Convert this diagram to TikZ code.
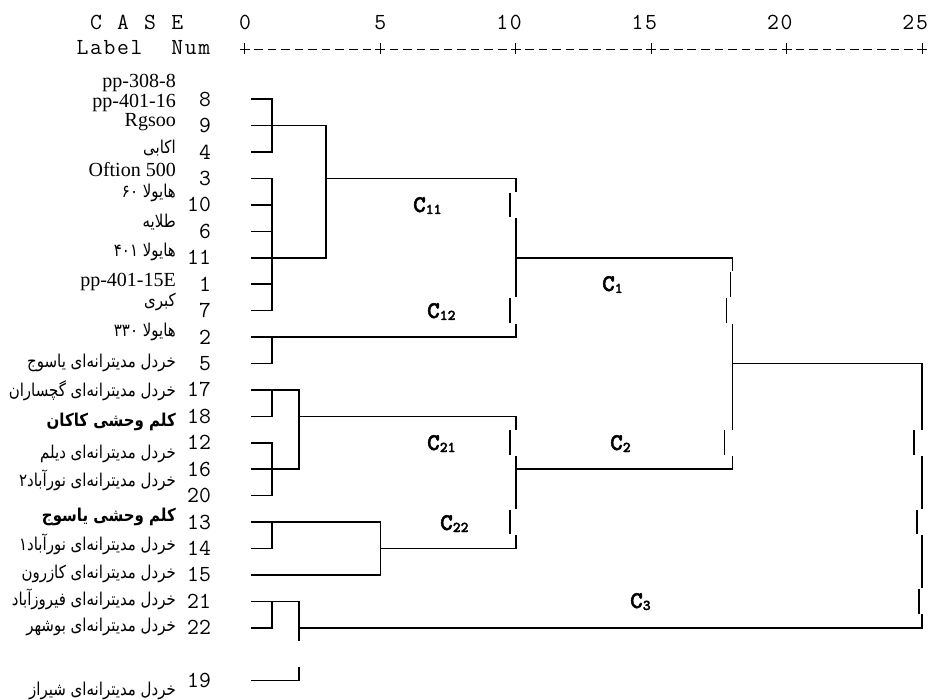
\documentclass[tikz,border=0pt]{standalone}
\usepackage{fontspec}
\setmainfont{Liberation Serif}
\newfontfamily\arfont[Script=Arabic]{DejaVu Sans}
\newfontfamily\cbold{lmmonolt10-bold.otf}[FakeBold=2]
\TeXXeTstate=1
\newcommand\ar[1]{\scalebox{1}[1.18]{\arfont\fontsize{15}{15}\selectfont\beginR #1\endR}}
\newcommand\arb[1]{\scalebox{1}[1.18]{\arfont\bfseries\fontsize{15}{15}\selectfont\beginR #1\endR}}
\newcommand\mtt{\ttfamily\fontsize{23}{23}\selectfont}
\tikzset{
  dl/.style={line width=1.6pt, line cap=rect, line join=miter},
  rl/.style={line width=0.9pt},
  mono/.style={font=\mtt, inner sep=0pt, anchor=base},
  lat/.style={font=\fontsize{20}{20}\selectfont, inner sep=0pt, anchor=base east},
  arl/.style={inner sep=0pt, anchor=base east},
  clab/.style={inner sep=0pt, anchor=base west, font=\cbold\fontsize{24}{24}\selectfont},
}
\newcommand\sub[1]{\raisebox{-2pt}{\fontsize{15}{15}\selectfont #1}}
% shifted "|" cell on a vertical line: x, row index, shift
\newcommand\shv[3]{%
  \fill[white] ({#1-1.2},{99.3+26.42*#2-13.21}) rectangle ({#1+1.2},{99.3+26.42*#2+13.21});
  \draw[dl, line cap=butt] ({#1+#3},{99.3+26.42*#2-12.3}) -- ({#1+#3},{99.3+26.42*#2+12.3});}
\begin{document}
\begin{tikzpicture}[x=1pt,y=-1pt]
\useasboundingbox (0,0) rectangle (929,700);
% header
\foreach \k/\c in {0/C,2/A,4/S,6/E,11/0,21/5,30/1,31/0,40/1,41/5,50/2,51/0,60/2,61/5}
  \node[mono] (h\k) at ({96+13.54*\k},30) {\c};
\foreach \k/\c in {-1/L,0/a,1/b,2/e,3/l,6/N,7/u,8/m}
  \node[mono] (g\k) at ({96+13.54*\k},55) {\c};
% ruler
\foreach \k in {11,...,61}{
  \pgfmathtruncatemacro\r{mod(\k-11,10)}
  \pgfmathsetmacro\xc{96+13.54*\k}
  \ifnum\r=0
    \draw[rl] ({\xc-5},49) -- ({\xc+5},49);
    \draw[rl] (\xc,43.5) -- (\xc,54.5);
  \else
    \draw[rl] ({\xc-4.3},49) -- ({\xc+4.3},49);
  \fi
}
% case numbers
\foreach \n/\i in {8/0,9/1,4/2,3/3,10/4,6/5,11/6,1/7,7/8,2/9,5/10,17/11,18/12,12/13,16/14,20/15,13/16,14/17,15/18,21/19,22/20,19/22}
  \node[mono, anchor=base east] (n\n) at (211.1,{99.3+26.42*\i+7}) {\n};
% labels
\node[lat] (t1) at (176,87.3) {pp-308-8};
\node[lat] (t2) at (176,107.3) {pp-401-16};
\node[lat] (t3) at (176,126.7) {Rgsoo};
\node[arl] (t4) at (176,153.3) {\ar{اکابی}};
\node[lat] (t5) at (176,176.7) {Oftion 500};
\node[arl] (t6) at (176,197.5) {\ar{هایولا \beginL۶۰\endL{}}};
\node[arl] (t7) at (176,228) {\ar{طلایه}};
\node[arl] (t8) at (176,256.7) {\ar{هایولا \beginL۴۰۱\endL{}}};
\node[lat] (t9) at (176,286.7) {pp-401-15E};
\node[arl] (t10) at (176,306.7) {\ar{کبری}};
\node[arl] (t11) at (176,336.7) {\ar{هایولا \beginL۳۳۰\endL{}}};
\node[arl] (t12) at (176,368) {\ar{خردل مدیترانه^^^^200cای یاسوج}};
\node[arl] (t13) at (176,396.7) {\ar{خردل مدیترانه^^^^200cای گچساران}};
\node[arl] (t14) at (176,426.7) {\arb{کلم وحشی کاکان}};
\node[arl] (t15) at (176,458) {\ar{خردل مدیترانه^^^^200cای دیلم}};
\node[arl] (t16) at (176,486.7) {\ar{خردل مدیترانه^^^^200cای نورآباد۲}};
\node[arl] (t17) at (176,521.7) {\arb{کلم وحشی یاسوج}};
\node[arl] (t18) at (176,550) {\ar{خردل مدیترانه^^^^200cای نورآباد۱}};
\node[arl] (t19) at (176,578) {\ar{خردل مدیترانه^^^^200cای کازرون}};
\node[arl] (t20) at (176,605) {\ar{خردل مدیترانه^^^^200cای فیروزآباد}};
\node[arl] (t21) at (176,631.7) {\ar{خردل مدیترانه^^^^200cای بوشهر}};
\node[arl] (t22) at (176,695) {\ar{خردل مدیترانه^^^^200cای شیراز}};
% leaves
\foreach \n/\y in {8/99.3,9/125.7,4/152.1,3/178.6,10/205.0,6/231.4,11/257.8,1/284.2,7/310.7,2/337.1,5/363.5,17/389.9,18/416.3,12/442.8,16/469.2,20/495.6,13/522.0,14/548.4,15/574.9,21/601.3,22/627.7,19/680.5}
  \coordinate (l\n) at (252,\y);
% cluster {8,9,4}
\coordinate (a8) at (272.1,99.3); \coordinate (a4) at (272.1,152.1);
\draw[dl] (l8) -- (a8) -- (a4) -- (l4);
\coordinate (c9) at (326.2,125.7); \draw[dl] (l9) -- (c9);
% cluster {3,10,6,11,1,7}
\coordinate (a3) at (272.1,178.6); \coordinate (a7) at (272.1,310.7);
\draw[dl] (l3) -- (a3) -- (a7) -- (l7);
\coordinate (a10) at (272.1,205.0); \coordinate (a6) at (272.1,231.4); \coordinate (a1) at (272.1,284.2);
\draw[dl] (l10) -- (a10); \draw[dl] (l6) -- (a6); \draw[dl] (l1) -- (a1);
\coordinate (c11) at (326.2,257.8); \draw[dl] (l11) -- (c11);
\draw[dl] (c9) -- (c11);
\coordinate (c3) at (326.2,178.6); \coordinate (e3) at (515.8,178.6); \draw[dl] (c3) -- (e3);
% {2,5}
\coordinate (e2) at (515.8,337.1); \draw[dl] (l2) -- (e2);
\coordinate (a2) at (272.1,337.1); \coordinate (a5) at (272.1,363.5); \draw[dl] (a2) -- (a5) -- (l5);
\draw[dl] (e3) -- (e2);
\coordinate (e11) at (515.8,257.8); \coordinate (f11) at (732.4,257.8); \draw[dl] (e11) -- (f11);
% {17,18,12,16,20}
\coordinate (b17) at (299.2,389.9); \draw[dl] (l17) -- (b17);
\coordinate (a17) at (272.1,389.9); \coordinate (a18) at (272.1,416.3); \draw[dl] (a17) -- (a18) -- (l18);
\coordinate (a12) at (272.1,442.8); \coordinate (a20) at (272.1,495.6); \draw[dl] (l12) -- (a12) -- (a20) -- (l20);
\coordinate (b16) at (299.2,469.2); \draw[dl] (l16) -- (b16);
\draw[dl] (b17) -- (b16);
\coordinate (b18) at (299.2,416.3); \coordinate (e18) at (515.8,416.3); \draw[dl] (b18) -- (e18);
% {13,14,15}
\coordinate (d13) at (380.4,522.0); \draw[dl] (l13) -- (d13);
\coordinate (a13) at (272.1,522.0); \coordinate (a14) at (272.1,548.4); \draw[dl] (a13) -- (a14) -- (l14);
\coordinate (d15) at (380.4,574.9); \draw[dl] (l15) -- (d15); \draw[dl] (d13) -- (d15);
\coordinate (d14) at (380.4,548.4); \coordinate (e14) at (515.8,548.4); \draw[dl] (d14) -- (e14);
\draw[dl] (e18) -- (e14);
\coordinate (e16) at (515.8,469.2); \coordinate (f16) at (732.4,469.2); \draw[dl] (e16) -- (f16);
\draw[dl] (f11) -- (f16);
\coordinate (f5) at (732.4,363.5); \coordinate (g5) at (922,363.5); \draw[dl] (f5) -- (g5);
% {21,22,19}
\coordinate (b21) at (299.2,601.3); \draw[dl] (l21) -- (b21);
\coordinate (a21) at (272.1,601.3); \coordinate (a22) at (272.1,627.7); \draw[dl] (a21) -- (a22) -- (l22);
\coordinate (b19) at (299.2,680.5); \draw[dl] (l19) -- (b19);
\coordinate (b22) at (299.2,627.7); \coordinate (g22) at (922,627.7); \draw[dl] (b22) -- (g22);
\coordinate (bq1) at (299.2,640.5); \coordinate (bq2) at (299.2,667.5);
\draw[dl] (b21) -- (bq1); \draw[dl] (bq2) -- (b19);
\draw[dl] (g5) -- (g22);
% offset "|" cells
\shv{515.8}{4}{-6} \shv{515.8}{8}{-6} \shv{515.8}{13}{-6} \shv{515.8}{16}{-6}
\shv{732.4}{7}{-2} \shv{732.4}{8}{-6} \shv{732.4}{13}{-8}
\shv{922}{13}{-8} \shv{922}{16}{-5} \shv{922}{19}{-3}
% cluster labels
\node[clab] (k11) at (413,212) {C\sub{11}};
\node[clab] (k12) at (427,318) {C\sub{12}};
\node[clab] (k21) at (427,450) {C\sub{21}};
\node[clab] (k22) at (440,530) {C\sub{22}};
\node[clab] (k1) at (602,291) {C\sub{1}};
\node[clab] (k2) at (610,450) {C\sub{2}};
\node[clab] (k3) at (630,608) {C\sub{3}};
\end{tikzpicture}
\end{document}
